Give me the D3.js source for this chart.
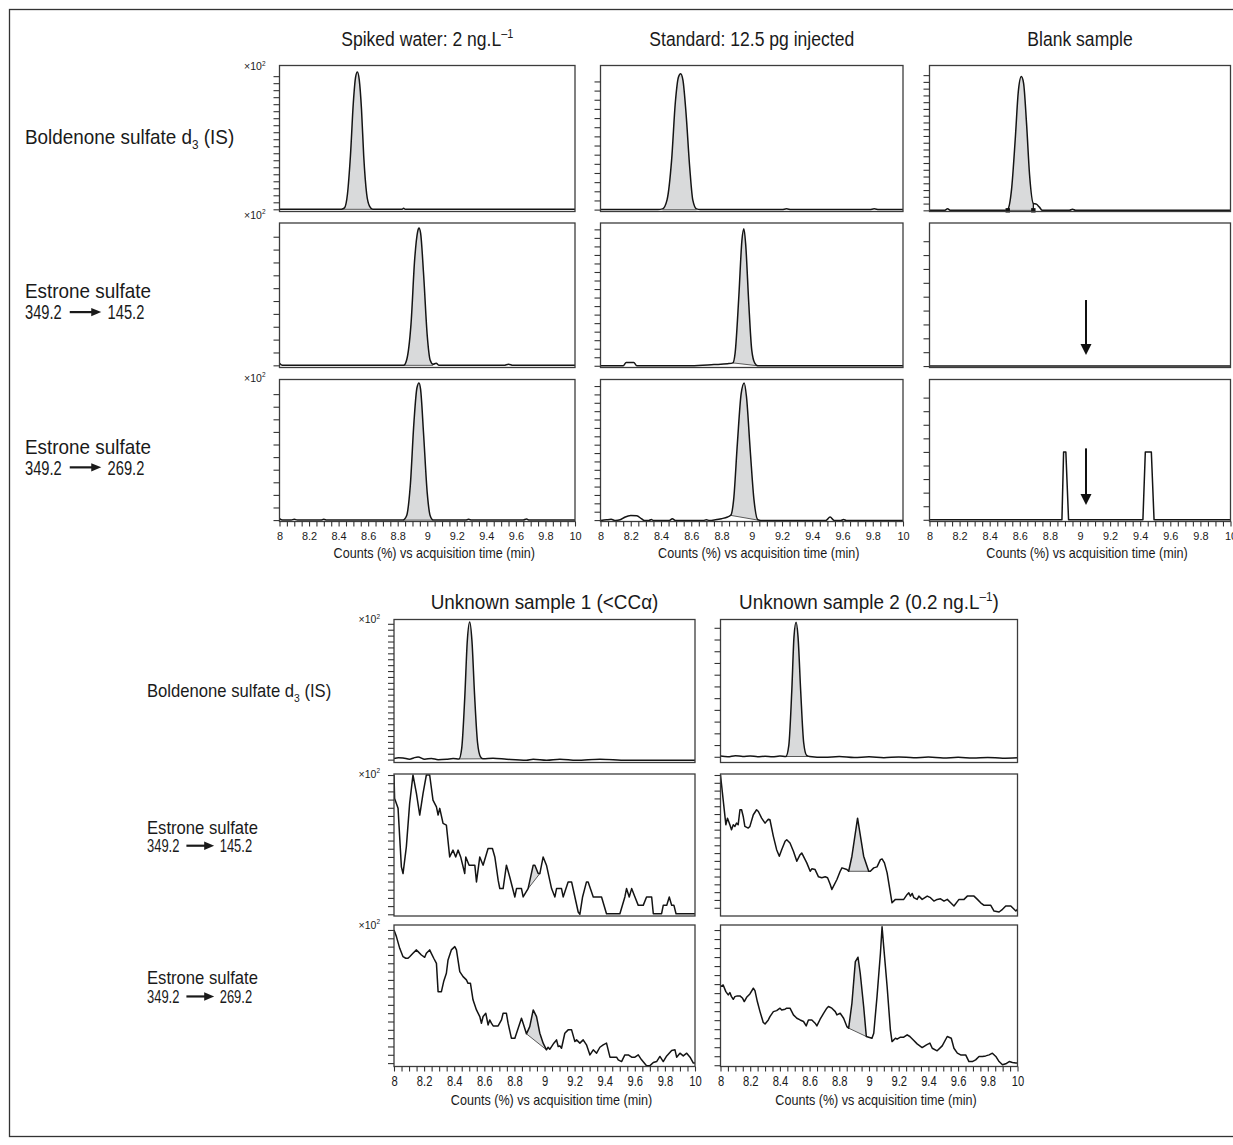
<!DOCTYPE html>
<html>
<head>
<meta charset="utf-8">
<script src="https://cdn.jsdelivr.net/npm/d3@7"></script>
<style>
  html, body { margin: 0; padding: 0; background: #fff; }
  svg { display: block; }
  text { font-family: "Liberation Sans", Arimo, Arial, sans-serif; fill: #1a1a1a; }
</style>
</head>
<body>
<svg id="chart" width="1233" height="1145"></svg>
<script>
// ---- Axis values ----
const TIME_DOMAIN = [8, 10];
const TIME_LABELS = [8, 8.2, 8.4, 8.6, 8.8, 9, 9.2, 9.4, 9.6, 9.8, 10];
const TIME_MINOR = 0.05;
const X_TITLE = "Counts (%) vs acquisition time (min)";

// ---- Titles and row labels ----
const TOP_TITLES = [
  [["Spiked water: 2 ng.L"], ["–1", "sup"]],
  [["Standard: 12.5 pg injected"]],
  [["Blank sample"]]
];
const BOTTOM_TITLES = [
  [["Unknown sample 1 (<CCα)"]],
  [["Unknown sample 2 (0.2 ng.L"], ["–1", "sup"], [")"]]
];
const COMPOUNDS = [
  [["Boldenone sulfate d"], ["3", "sub"], [" (IS)"]],
  [["Estrone sulfate"]],
  [["Estrone sulfate"]]
];
const TRANSITIONS = [null, ["349.2", "145.2"], ["349.2", "269.2"]];

// ---- Traces: [time (min), counts (% of panel height)] ----
const spikedIS = [[8,1.5],[8.3,1.5],[8.42,1.6],[8.44,2.5],[8.46,12],[8.48,38],[8.5,75],[8.515,92],[8.527,95.5],[8.54,90],[8.555,70],[8.57,38],[8.59,12],[8.61,3.5],[8.63,1.6],[8.83,1.6],[8.84,2.3],[8.85,1.6],[10,1.5]];
const standardIS = [[8,1.3],[8.38,1.3],[8.41,1.8],[8.44,8],[8.47,35],[8.495,75],[8.515,92],[8.53,94.4],[8.545,90],[8.565,68],[8.59,30],[8.61,8],[8.635,1.8],[8.66,1.3],[9.2,1.3],[9.23,1.8],[9.26,1.3],[9.78,1.3],[9.81,1.8],[9.84,1.3],[10,1.3]];
const blankIS = [[8,0.8],[8.1,0.8],[8.12,1.8],[8.14,0.8],[8.5,0.8],[8.52,1.5],[8.545,15],[8.57,50],[8.59,82],[8.61,92.4],[8.625,88],[8.645,60],[8.665,25],[8.69,5.5],[8.71,5],[8.73,3],[8.75,0.8],[8.93,0.8],[8.95,1.6],[8.97,0.8],[10,0.8]];

const spiked145 = [[8,3],[8.02,1.5],[8.3,1.5],[8.84,1.5],[8.86,5],[8.89,30],[8.915,75],[8.935,94],[8.944,96.5],[8.955,93],[8.975,65],[9,22],[9.02,5],[9.04,2.2],[9.06,3],[9.08,1.5],[9.52,1.5],[9.55,2.3],[9.58,1.5],[10,1.5]];
const standard145 = [[8,1.2],[8.15,1.2],[8.17,3.5],[8.22,3.5],[8.24,1.2],[8.6,1.2],[8.75,2],[8.84,2.6],[8.875,3.2],[8.89,10],[8.915,50],[8.935,88],[8.948,96],[8.96,85],[8.98,45],[9,12],[9.02,3],[9.04,1.2],[10,1.2]];
const blank145 = [[8,1],[10,1]];

const spiked269 = [[8,2],[8.02,1],[8.08,1],[8.1,1.6],[8.12,1],[8.28,1],[8.3,1.5],[8.32,1],[8.836,1],[8.86,4],[8.885,25],[8.91,70],[8.93,94],[8.944,97.6],[8.955,93],[8.975,62],[9,20],[9.02,4],[9.04,1],[9.26,1],[9.28,1.5],[9.3,1],[9.65,1],[9.672,1.8],[9.69,1],[10,1]];
const standard269 = [[8,0.7],[8.04,1.2],[8.07,1.5],[8.1,0.7],[8.13,1.2],[8.16,3],[8.2,4.2],[8.24,4],[8.27,2],[8.29,0.7],[8.32,0.7],[8.336,1.4],[8.35,0.7],[8.455,0.7],[8.475,2],[8.495,0.7],[8.68,0.7],[8.7,1.2],[8.72,0.7],[8.76,1.2],[8.8,2],[8.84,3.2],[8.862,4.5],[8.88,15],[8.905,55],[8.93,90],[8.95,97.6],[8.965,88],[8.99,50],[9.015,15],[9.04,1.2],[9.06,0.7],[9.49,0.7],[9.518,3.2],[9.545,0.7],[9.59,0.7],[9.607,1.4],[9.625,0.7],[10,0.7]];
const blank269 = [[8,1.2],[8.88,1.2],[8.891,49],[8.906,49],[8.924,1.2],[9.418,1.2],[9.434,49],[9.474,49],[9.492,1.2],[10,1.2]];

const unknown1IS = [[8,2.8],[8.03,3.4],[8.06,3.2],[8.104,2.3],[8.13,3.2],[8.16,3.9],[8.204,2.3],[8.249,2.8],[8.293,2],[8.349,2.3],[8.393,2.8],[8.432,2.5],[8.45,10],[8.47,45],[8.487,85],[8.503,98.3],[8.518,85],[8.535,48],[8.555,14],[8.575,4],[8.592,2.6],[8.658,3],[8.748,2.3],[8.88,1.6],[8.925,2.3],[9.014,1.6],[9.102,2.3],[9.213,1.6],[9.368,2.3],[9.546,1.6],[9.767,1.6],[10,1.6]];
const unknown2IS = [[8,4.5],[8.05,4],[8.1,4.8],[8.15,4.2],[8.2,4.6],[8.25,4],[8.3,4.4],[8.35,4],[8.4,4.5],[8.44,4.2],[8.46,12],[8.48,50],[8.495,88],[8.509,98],[8.522,88],[8.54,50],[8.56,14],[8.58,5],[8.6,4.2],[8.7,3.6],[8.8,4.2],[8.9,3.5],[9,4],[9.1,3.4],[9.2,3.9],[9.3,3.3],[9.4,3.8],[9.5,3.2],[9.6,3.6],[9.7,3.1],[9.8,3.5],[9.9,3],[10,3.3]];

const unknown1_145 = [[8,99.3],[8.004,82.8],[8.027,75.8],[8.049,34.6],[8.06,29.9],[8.082,48.7],[8.104,79.3],[8.126,99.3],[8.149,86.4],[8.171,71.1],[8.193,86.4],[8.215,99.3],[8.237,99.3],[8.259,81.6],[8.282,76.9],[8.293,71.1],[8.304,75.8],[8.326,65.2],[8.348,64],[8.37,41.6],[8.392,46.4],[8.41,41.6],[8.426,46.4],[8.443,41.6],[8.47,29.9],[8.477,41.6],[8.499,35.8],[8.537,35.8],[8.548,24],[8.57,41.6],[8.592,35.8],[8.625,47.5],[8.654,47.5],[8.67,41.6],[8.692,25.2],[8.703,19.3],[8.725,19.3],[8.747,35.8],[8.769,27.5],[8.803,13.4],[8.814,19.3],[8.847,19.3],[8.858,13.4],[8.891,19.3],[8.925,35.8],[8.936,35.8],[8.958,29.9],[8.969,29.9],[8.991,41.6],[9.013,35.8],[9.047,19.3],[9.069,13.4],[9.08,19.3],[9.113,19.3],[9.124,13.4],[9.157,24],[9.18,24],[9.202,13.4],[9.224,2.8],[9.235,1.2],[9.253,13.4],[9.279,24],[9.29,24],[9.324,13.4],[9.346,13.4],[9.379,13.4],[9.412,1.6],[9.501,1.6],[9.534,13.4],[9.545,19.3],[9.563,13.4],[9.579,19.3],[9.601,13.4],[9.623,7.5],[9.656,7.5],[9.678,13.4],[9.712,13.4],[9.723,1.6],[9.778,1.6],[9.789,7.5],[9.812,7.5],[9.829,13.4],[9.845,7.5],[9.86,7.5],[9.874,1.6],[10,1.6]];
const unknown2_145 = [[8,99.3],[8.018,81.8],[8.036,64.3],[8.047,68.9],[8.063,64.3],[8.074,60.7],[8.086,64.3],[8.097,63.1],[8.108,65.4],[8.119,64.3],[8.131,74.8],[8.142,74.8],[8.153,70.1],[8.164,63.1],[8.187,61.9],[8.198,63.1],[8.221,71.3],[8.243,74.8],[8.255,73.6],[8.277,68.9],[8.3,65.4],[8.322,68.2],[8.333,67.8],[8.356,56.1],[8.378,46.7],[8.396,42.1],[8.412,46.7],[8.435,52.6],[8.446,53.7],[8.468,51.4],[8.491,45.6],[8.514,38.6],[8.536,43.2],[8.547,44.4],[8.57,39.7],[8.581,37.4],[8.604,31.5],[8.615,33.2],[8.637,32.7],[8.66,27.6],[8.682,26.9],[8.705,27.6],[8.721,26.9],[8.739,22.2],[8.75,18.7],[8.784,25.7],[8.806,31.5],[8.818,33.9],[8.851,32.7],[8.863,31.5],[8.885,42.1],[8.923,68.9],[8.964,42.1],[8.998,31.5],[9.009,31.5],[9.032,33.9],[9.054,34.6],[9.077,39.7],[9.088,40.2],[9.104,37.4],[9.122,30.4],[9.155,9.3],[9.178,11.7],[9.212,11.7],[9.234,11.7],[9.257,15.2],[9.268,16.4],[9.279,14],[9.291,15.9],[9.302,12.9],[9.324,11.7],[9.336,14],[9.358,11.7],[9.392,14],[9.414,12.9],[9.437,10.5],[9.459,11.7],[9.482,12.1],[9.505,10.5],[9.527,11.7],[9.55,9.3],[9.572,7],[9.606,11.7],[9.64,11.7],[9.662,14],[9.707,14],[9.73,11.7],[9.752,9.3],[9.775,7.5],[9.82,7.5],[9.842,3.5],[9.876,2.8],[9.899,4.7],[9.921,7],[9.955,7],[9.989,3.5],[10,4.7]];

const unknown1_269 = [[8,96.5],[8.016,91.8],[8.038,83.5],[8.06,77.6],[8.078,76.5],[8.093,76.5],[8.104,77.6],[8.126,80],[8.149,82.4],[8.16,81.2],[8.182,78.8],[8.204,77.2],[8.215,80],[8.237,82.4],[8.248,80],[8.264,76.5],[8.282,72.9],[8.293,52.9],[8.315,52.9],[8.33,60],[8.348,65.9],[8.359,75.3],[8.381,82.4],[8.404,84.7],[8.415,82.4],[8.437,67.1],[8.459,63.5],[8.481,61.2],[8.492,58.8],[8.508,58.8],[8.525,47.1],[8.548,40],[8.57,35.3],[8.581,30.6],[8.592,35.3],[8.61,37.6],[8.625,29.4],[8.636,32.9],[8.647,30.6],[8.659,28.7],[8.692,28.7],[8.714,32.9],[8.725,37.6],[8.747,37.6],[8.758,30.6],[8.78,20],[8.803,20],[8.814,23.5],[8.836,30.6],[8.847,34.1],[8.858,30.6],[8.88,23.1],[8.902,28.2],[8.925,40],[8.947,35.3],[8.969,23.5],[8.991,16.5],[9.013,11.8],[9.024,13.6],[9.035,12.2],[9.047,14.1],[9.062,16.5],[9.08,18.8],[9.091,14.1],[9.102,14.6],[9.113,12.9],[9.135,23.5],[9.157,25.9],[9.18,25.9],[9.202,17.6],[9.213,18.8],[9.235,16.5],[9.257,18.8],[9.279,15.3],[9.302,8.2],[9.324,11.8],[9.346,9.4],[9.368,13.6],[9.39,15.3],[9.412,16.5],[9.435,6.6],[9.479,6.6],[9.49,4.7],[9.512,3.5],[9.534,8.2],[9.557,8.2],[9.579,6.6],[9.601,6.6],[9.623,8.2],[9.645,4.7],[9.678,0.6],[9.701,0.6],[9.723,2.8],[9.745,3.5],[9.767,7.1],[9.789,3.5],[9.812,7.5],[9.845,11.3],[9.867,11.8],[9.878,6.6],[9.9,9.4],[9.922,7.5],[9.945,9.4],[9.967,6.6],[9.989,2.4],[10,2.4]];
const unknown2_269 = [[8,56.5],[8.018,57.6],[8.036,52.9],[8.052,50.6],[8.063,52.2],[8.074,49.4],[8.086,47.5],[8.097,49.4],[8.113,49.9],[8.131,49.9],[8.149,48.2],[8.16,45.9],[8.176,48.9],[8.198,51.3],[8.221,55.3],[8.232,53.6],[8.248,45.9],[8.266,38.8],[8.288,31.1],[8.3,30.1],[8.322,32.9],[8.333,35.3],[8.356,38.8],[8.378,39.5],[8.401,41.2],[8.412,40],[8.435,40.5],[8.446,41.2],[8.468,41.2],[8.48,38.8],[8.491,36.5],[8.514,34.1],[8.536,32.9],[8.559,31.8],[8.577,28.7],[8.592,32.9],[8.615,32.9],[8.637,30.6],[8.649,28.7],[8.671,33.4],[8.694,37.6],[8.716,41.2],[8.727,42.4],[8.75,41.2],[8.773,38.8],[8.784,36.5],[8.806,37.6],[8.829,34.1],[8.851,28.2],[8.863,27.1],[8.885,44.7],[8.908,74.1],[8.926,77.2],[8.941,65.9],[8.964,42.4],[8.982,21.2],[8.998,20.7],[9.02,20],[9.032,23.5],[9.054,49.4],[9.077,80],[9.088,98.8],[9.099,84.7],[9.122,56.5],[9.144,25.9],[9.155,17.6],[9.178,20],[9.189,19.3],[9.212,20.7],[9.234,20.7],[9.257,22.4],[9.275,21.2],[9.302,18.4],[9.324,16],[9.358,13.4],[9.387,15.3],[9.41,16.5],[9.426,12.9],[9.459,11.1],[9.493,14.6],[9.527,21.2],[9.554,20],[9.572,12.9],[9.595,9.4],[9.617,8.2],[9.651,8.2],[9.673,3.5],[9.696,3.5],[9.718,4.7],[9.741,7.1],[9.764,7.1],[9.786,7.5],[9.809,8.2],[9.831,9.4],[9.854,7.1],[9.876,3.5],[9.899,1.2],[9.921,1.9],[9.944,3.5],[9.966,2.8],[9.989,2.4],[10,2.4]];

// ---- Integrated peak windows: [t start, baseline at start, t end, baseline at end] ----
const PEAK_WINDOWS_TOP = [
  [[8.42, 1.5, 8.63, 1.5], [8.41, 1.2, 8.635, 1.2], [8.52, 0.8, 8.69, 0.8]],
  [[8.84, 1.5, 9.04, 1.5], [8.875, 3.2, 9.04, 1.2], null],
  [[8.836, 1, 9.04, 1], [8.862, 4.3, 9.04, 1], null]
];
const PEAK_WINDOWS_BOTTOM = [
  [[8.432, 2.5, 8.592, 2.6], [8.44, 4.2, 8.6, 4.2]],
  [[8.891, 19.3, 8.969, 29.9], [8.863, 31.5, 8.998, 31.5]],
  [[8.88, 23.1, 9.013, 11.8], [8.863, 27.1, 8.982, 21.2]]
];

// ---- Y ticks per panel: [count, step, first] (counts %) ----
const Y_TICKS_TOP = [
  [[20, 4.8, 1.5], [15, 6.27, 1.3], [21, 4.63, 0.8]],
  [[11, 8.9, 1.5], [17, 5.9, 1.2], [10, 9.6, 1]],
  [[11, 8.87, 1], [17, 5.9, 1], [10, 9.56, 1.2]]
];
const Y_TICKS_BOTTOM = [
  [[24, 4.13, 2], [12, 8.2, 4]],
  [[18, 5.77, 1.2], [18, 5.5, 5.8]],
  [[17, 5.88, 2.4], [16, 6.37, 0.9]]
];

// ---- Arrows marking the expected retention time in the blank: [t, tail, tip] ----
const BLANK_ARROWS = [[9.04, 46.7, 8.7], [9.04, 51.5, 11.6]];

// =====================================================================

const svg = d3.select("#chart");
const FILL = "#d9dadb";
const SX = 0.9;   // horizontal squeeze to get a condensed face

// text squeezed horizontally around its anchor point
function stext(x, y, size, anchor, sx) {
  return svg.append("text")
    .attr("transform", `translate(${x},${y}) scale(${sx || SX},1)`)
    .attr("font-size", size)
    .attr("text-anchor", anchor || "start");
}

function rich(sel, parts, size) {
  let shift = 0;
  parts.forEach(([s, kind]) => {
    const target = kind === "sup" ? -0.4 : kind === "sub" ? 0.28 : 0;
    const ts = sel.append("tspan").text(s).attr("dy", ((target - shift) * size).toFixed(2));
    if (kind) ts.attr("font-size", (size * 0.62).toFixed(1));
    shift = target;
  });
  return sel;
}

// "349.2 ──► 145.2"; digits of the original face are narrow
function arrowLabel(x, y, pair, size) {
  const NSX = 0.7;
  const t1 = stext(x, y, size, "start", NSX).text(pair[0]);
  const w = t1.node().getComputedTextLength() * NSX;
  const a0 = x + w + size * 0.38, a1 = a0 + size * 1.5, ay = y - size * 0.34;
  svg.append("line").attr("x1", a0).attr("x2", a1 - 6).attr("y1", ay).attr("y2", ay)
    .attr("stroke", "#1a1a1a").attr("stroke-width", 2.2);
  svg.append("path").attr("d", `M${a1},${ay}L${a1 - 10},${ay - 4.2}L${a1 - 10},${ay + 4.2}Z`)
    .attr("fill", "#1a1a1a");
  stext(a1 + size * 0.3, y, size, "start", NSX).text(pair[1]);
}

let clipId = 0;
function drawPanel(p) {
  const x = d3.scaleLinear().domain(TIME_DOMAIN).range([p.x0, p.x1]);
  const y = d3.scaleLinear().domain([0, 100]).range([p.y1, p.y0]);
  const g = svg.append("g");
  const id = "clip" + (clipId++);
  g.append("clipPath").attr("id", id).append("rect")
    .attr("x", p.x0).attr("y", p.y0 - 1).attr("width", p.x1 - p.x0).attr("height", p.y1 - p.y0 + 1);
  const inner = g.append("g").attr("clip-path", `url(#${id})`);
  const curve = p.smooth ? d3.curveMonotoneX : d3.curveLinear;

  // ---- integrated peak ----
  if (p.win) {
    const [ta, va, tb, vb] = p.win;
    const base = t => va + (vb - va) * (t - ta) / (tb - ta);
    const pts = p.data.filter(d => d[0] >= ta - 1e-9 && d[0] <= tb + 1e-9);
    inner.append("path").datum(pts)
      .attr("fill", FILL)
      .attr("d", d3.area().x(d => x(d[0])).y0(d => y(base(d[0]))).y1(d => y(d[1])).curve(curve));
    inner.append("line")
      .attr("x1", x(ta)).attr("x2", x(tb)).attr("y1", y(va)).attr("y2", y(vb))
      .attr("stroke", "#5a5a5a").attr("stroke-width", 1);
    if (p.marks) {
      const end = pts[pts.length - 1];
      inner.append("line").attr("x1", x(tb)).attr("x2", x(tb)).attr("y1", y(vb)).attr("y2", y(end[1]))
        .attr("stroke", "#1a1a1a").attr("stroke-width", 1.3);
      [[ta, va], [tb, vb]].forEach(([t, v]) => {
        g.append("rect").attr("x", x(t) - 2.2).attr("y", y(v) - 2.2).attr("width", 4.4).attr("height", 4.4)
          .attr("fill", "#111");
      });
    }
  }

  // ---- trace ----
  inner.append("path").datum(p.data)
    .attr("fill", "none").attr("stroke", "#141414").attr("stroke-width", 1.5)
    .attr("stroke-linejoin", "round")
    .attr("d", d3.line().x(d => x(d[0])).y(d => y(d[1])).curve(curve));

  // ---- frame ----
  g.append("rect").attr("x", p.x0).attr("y", p.y0).attr("width", p.x1 - p.x0).attr("height", p.y1 - p.y0)
    .attr("fill", "none").attr("stroke", "#3c3c3c").attr("stroke-width", 1.3);

  // ---- y ticks ----
  const [n, step, first] = p.ticks;
  const yAxis = g.append("g").attr("transform", `translate(${p.x0},0)`)
    .call(d3.axisLeft(y).tickValues(d3.range(n).map(i => first + i * step)).tickSize(6).tickFormat(""));
  yAxis.select(".domain").remove();
  yAxis.selectAll("line").attr("stroke", "#333").attr("stroke-width", 1.1);

  if (p.exp != null) {
    const t = svg.append("text").attr("x", p.x0 - 14).attr("y", p.y0 + p.exp)
      .attr("text-anchor", "end").attr("font-size", 10.5);
    rich(t, [["×10"], ["2", "sup"]], 10.5);
  }

  // ---- x axis ----
  if (p.xAxis) {
    const isLabel = v => TIME_LABELS.some(l => Math.abs(l - v) < 1e-6);
    const xAxis = g.append("g").attr("transform", `translate(0,${p.y1})`)
      .call(d3.axisBottom(x).tickValues(d3.range(TIME_DOMAIN[0], TIME_DOMAIN[1] + 1e-6, TIME_MINOR))
        .tickSize(5).tickPadding(p.tickPad)
        .tickFormat(v => isLabel(v) ? String(+v.toFixed(1)) : ""));
    xAxis.select(".domain").remove();
    xAxis.selectAll("line").attr("stroke", "#333").attr("stroke-width", 1.1);
    xAxis.selectAll("text").attr("font-size", p.tickFont).attr("fill", "#1a1a1a")
      .attr("font-family", "'Liberation Sans', Arimo, Arial, sans-serif")
      .attr("transform", `scale(${p.tickSx},1)`);
    stext((p.x0 + p.x1) / 2 + 7, p.y1 + p.titleDy, 14, "middle").text(X_TITLE);
  }
}

// ---- outer frame ----
svg.append("rect").attr("x", 9.5).attr("y", 9.5).attr("width", 1240).attr("height", 1127)
  .attr("fill", "none").attr("stroke", "#333").attr("stroke-width", 1.3);

// ---- top block: three samples ----
const TOP_X = [[279.5, 575], [600.5, 903], [929.5, 1230.5]];
const TOP_Y = [[65.5, 211.5], [223, 367.5], [379.5, 521.5]];
const TOP_EXP = [4.5, -4.5, 2];
const TOP_DATA = [
  [spikedIS, standardIS, blankIS],
  [spiked145, standard145, blank145],
  [spiked269, standard269, blank269]
];
TOP_DATA.forEach((row, r) => row.forEach((data, c) => {
  drawPanel({
    x0: TOP_X[c][0], x1: TOP_X[c][1], y0: TOP_Y[r][0], y1: TOP_Y[r][1],
    data, smooth: !(r === 2 && c === 2), win: PEAK_WINDOWS_TOP[r][c], marks: r === 0 && c === 2,
    ticks: Y_TICKS_TOP[r][c], exp: c === 0 ? TOP_EXP[r] : null, xAxis: r === 2,
    tickFont: 11.5, tickSx: 0.95, tickPad: 5, titleDy: 36
  });
}));
TOP_TITLES.forEach((parts, c) => {
  rich(stext((TOP_X[c][0] + TOP_X[c][1]) / 2, 46, 19.5, "middle"), parts, 19.5);
});

// ---- bottom block: unknown samples ----
const BOT_X = [[394, 695], [720.5, 1017.5]];
const BOT_Y = [[619.5, 762.5], [774, 916], [925, 1066.5]];
const BOT_DATA = [
  [unknown1IS, unknown2IS],
  [unknown1_145, unknown2_145],
  [unknown1_269, unknown2_269]
];
BOT_DATA.forEach((row, r) => row.forEach((data, c) => {
  drawPanel({
    x0: BOT_X[c][0], x1: BOT_X[c][1], y0: BOT_Y[r][0], y1: BOT_Y[r][1],
    data, smooth: r === 0, win: PEAK_WINDOWS_BOTTOM[r][c], marks: false,
    ticks: Y_TICKS_BOTTOM[r][c], exp: c === 0 ? 3.5 : null, xAxis: r === 2,
    tickFont: 14, tickSx: 0.8, tickPad: 5, titleDy: 38
  });
}));
BOTTOM_TITLES.forEach((parts, c) => {
  rich(stext((BOT_X[c][0] + BOT_X[c][1]) / 2, 609, 21, "middle"), parts, 21);
});

// ---- blank arrows ----
BLANK_ARROWS.forEach(([t, tail, tip], i) => {
  const r = i + 1;
  const x = d3.scaleLinear().domain(TIME_DOMAIN).range(TOP_X[2]);
  const y = d3.scaleLinear().domain([0, 100]).range([TOP_Y[r][1], TOP_Y[r][0]]);
  svg.append("line").attr("x1", x(t)).attr("x2", x(t)).attr("y1", y(tail)).attr("y2", y(tip) - 8)
    .attr("stroke", "#111").attr("stroke-width", 2);
  svg.append("path").attr("d", `M${x(t)},${y(tip)}L${x(t) - 5.5},${y(tip) - 11}L${x(t) + 5.5},${y(tip) - 11}Z`)
    .attr("fill", "#111");
});

// ---- row labels ----
// single-line label sits at mid + dySingle, two-line labels start at mid + dyFirst
function rowLabels(x, rows, size, dySingle, dyFirst) {
  COMPOUNDS.forEach((parts, r) => {
    const mid = (rows[r][0] + rows[r][1]) / 2;
    if (!TRANSITIONS[r]) {
      rich(stext(x, mid + dySingle, size), parts, size);
    } else {
      rich(stext(x, mid + dyFirst, size), parts, size);
      arrowLabel(x, mid + dyFirst + size * 1.0, TRANSITIONS[r], size);
    }
  });
}
rowLabels(25, TOP_Y, 21, 5, 3);
rowLabels(147, BOT_Y, 18.5, 6, -11.5);
</script>
</body>
</html>
